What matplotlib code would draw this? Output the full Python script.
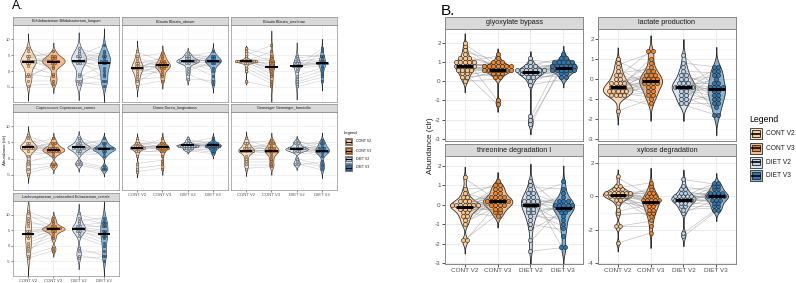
import numpy as np
import matplotlib
matplotlib.use("Agg")
import matplotlib.pyplot as plt
from matplotlib.colors import to_rgba
from matplotlib.patches import Rectangle

plt.rcParams['font.family'] = ['Liberation Sans', 'DejaVu Sans']

W, H = 796, 283

groups = ["CONT V2", "CONT V3", "DIET V2", "DIET V3"]
group_colors = ["#FDC78C", "#F0862A", "#B9D4EA", "#2C79B8"]

# ---- A: species level, clr abundance per subject (V2 / V3 lists are paired by position) ----
a_titles = ["Bifidobacterium Bifidobacterium_longum", "Blautia Blautia_obeum",
            "Blautia Blautia_wexlerae", "Coprococcus Coprococcus_comes",
            "Dorea Dorea_longicatena", "Gemmiger Gemmiger_formicilis",
            "Lachnospiraceae_unclassified Eubacterium_rectale"]

bifido = [[7, 6, 5, 4.5, 4, 3.5, 3.2, 3, 3, 2.8, 2.5, 2, 1.5, -1, -1.5, -2, -3, -4.5],
          [4, 3, 5, 3.2, 6, 2.8, 3.5, 1, 3, 4.5, 2, 3.8, -1, -2, 1.5, 2.5, -3, -4],
          [7, 6, 5.5, 5, 4.5, 4, 3.5, 3.4, 3.3, 3.2, 3, 2.5, 2, -1, -2, -3, -3.5, -4],
          [5, 4, 3, 8, 2.5, 6, -2, 3.5, 1, 4.5, 5.5, 0, 2.8, -3, 2, -1, -4.5, -3.5]]
obeum = [[6, 4.5, 4, 3, 2.5, 2, 1.5, 1.2, 1, 1, 0.8, 0.5, 0, -1, -1.5, -2.5, -3.5, -4.5],
         [3, 5.5, 2, 1.8, 4, 0.5, 2.5, 1.5, 3.5, -1, 1.8, 4.5, 1, 2.2, 0, -2, 1.2, -3],
         [5.5, 5, 4.5, 4, 3.8, 3.5, 3.3, 3.2, 3.1, 3, 3, 2.8, 2.5, 2, 1, 0, -1, -2.5],
         [4, 3.2, 6, 3, 2.8, 5, 3.5, 1, 3.3, 0, 4.5, 2.5, 3.8, -1.5, 2, 3, -4, -3]]
wexlerae = [[7, 6, 5, 4, 3.5, 3.3, 3.2, 3.1, 3.1, 3, 3, 2.9, 2.8, 2.5, 2, 1, 0, -3.3],
            [5, 3, 8, 1.5, 2, 4, 0.5, 1.3, 6, 1, 2.5, -1, 3.5, 0, -2, -3, -4, -5],
            [5, 4, 3.5, 3, 2.5, 2, 2, 1.8, 1.7, 1.6, 1.5, 1, 0, -1.5, -2.5, -3.5, -4, -5],
            [4.5, 5, 3, 4, 2.5, 3.5, 2.4, 2.7, 2.2, 2, 7, 1.5, 6, 1, 0, -1, -2, -3]]
coprococcus = [[7, 6, 5, 4.5, 4, 3.8, 3.6, 3.5, 3.5, 3.4, 3.2, 3, 2, 1, -1, -2, -3.5, -4.5],
               [4, 3, 6, 2.8, 3.5, 2.7, 4.5, 2.6, 3.2, 2.5, 5, 2.2, 1.5, 2, 1, -1.5, -2, -2.5],
               [6.5, 5.5, 5, 4.5, 4, 3.8, 3.6, 3.5, 3.5, 3.4, 3.2, 3, 2.5, 2, 1.5, -1, -1.5, -2],
               [4, 3.3, 5, 3, 6, 2.9, 3.5, 4.5, 3.1, 2.8, 2.5, 3, 2, 1.5, 1, -2.5, -3, -3.5]]
dorea = [[6, 5, 4.5, 4, 3.8, 3.6, 3.5, 3.5, 3.4, 3.3, 3.2, 3, 2.5, 2, 1, -1.5, -3, -4],
         [4.2, 3.5, 5, 3.6, 6, 3.4, 4, 3.8, 3.2, 4.5, 3, 3.5, 2, 2.5, 1, -0.5, -2, -3],
         [6, 5.5, 5, 4.8, 4.5, 4.3, 4.2, 4.1, 4.1, 4.0, 4.0, 3.9, 3.8, 3.5, 3.2, 3, 2.8, 2.5],
         [4.4, 5, 4.1, 6.5, 4, 3.9, 4.8, 4.2, 5.5, 3.8, 4.6, 3.5, 4.1, 3.2, 2.5, 3, 2, 1.5]]
gemmiger = [[6, 5, 4.5, 4, 3.5, 3, 2.8, 2.6, 2.5, 2.5, 2.4, 2.2, 2, 1, 0, -1, -2, -3],
            [3, 5.5, 2.5, 4, 2.8, 5, 2.3, 3.5, 2.6, 1.5, 4.5, 2.5, 2, 1, 0, -1, -2, -2.5],
            [5.5, 5, 4.5, 4, 3.5, 3.3, 3.1, 3, 3, 2.9, 2.8, 2.6, 2.3, 2, 0, -1, -1.5, -2],
            [3, 4.5, 2.5, 5.5, 2.8, 3.5, 2.6, 5, 2.3, 4, 2.5, 1.5, 2, 1, -2, -2.5, -3.5, -1]]
lachno = [[11, 10, 9, 8, 7, 6, 5, 4.5, 4, 3.5, 3, 2, 1, 0, -1, -2, -3, -4],
          [8, 6, 9, 5.5, 7, 5.6, 5.8, 5, 6.5, 5.4, 4.5, 5.2, 4, 3, 2, 5.5, -0.5, -1.5],
          [10, 9, 8, 7, 6.5, 6, 5.8, 5.5, 5.4, 5.3, 5, 4.5, 4, 3, -1, -2, -3, -4],
          [8, 7, 9, 6, 7.5, 5, 6.5, 4.5, 3.5, 4, 2, 3, 1, 0, -3, -2, -4.5, -3.5]]

# ---- B: pathway level ----
b_titles = ["glyoxylate bypass", "lactate production", "threonine degradation I", "xylose degradation"]

glyoxylate = [[1.9, 1.7, 1.5, 1.4, 1.2, 1.2, 1.1, 1.0, 1.0, 0.9, 0.9, 0.9, 0.8, 0.8, 0.8, 0.7, 0.7, 0.6, 0.6, 0.5, 0.5, 0.4, 0.3, 0.2, 0.1, 0.0],
              [0.8, 0.6, 1.1, 0.7, -1.0, 0.9, 0.5, 1.3, 0.6, 0.8, 0.4, 0.7, 0.9, 0.3, 0.6, 0.7, 1.0, 0.5, 0.8, 0.2, 0.7, -1.2, 0.6, 0.4, 0.5, 0.1],
              [1.1, 0.9, 0.8, 0.7, 0.7, 0.6, 0.6, 0.6, 0.5, 0.5, 0.5, 0.5, 0.4, 0.4, 0.4, 0.3, 0.3, 0.2, 0.1, 0.0, -0.2, -1.9, -2.1, -2.3],
              [0.9, 0.7, 1.2, 0.8, 0.5, 1.0, 0.7, 0.6, 0.9, 0.8, 0.3, 0.7, 1.1, 0.5, 0.6, 0.2, 0.9, 0.6, 0.4, 0.5, 0.1, 1.4, 0.8, 1.0]]
lactate = [[0.9, 0.7, 0.5, 0.3, 0.2, 0.1, 0.0, -0.1, -0.2, -0.3, -0.3, -0.3, -0.4, -0.4, -0.5, -0.5, -0.6, -0.6, -0.6, -0.7, -0.7, -0.8, -0.8, -0.8, -0.9, -1.6],
           [0.1, 1.3, -0.3, 0.5, -0.1, 1.4, -0.6, 0.0, 0.3, -0.2, 0.7, -0.8, -0.1, 0.2, -0.4, 1.0, -0.2, -0.5, 0.4, -0.9, 0.1, -0.3, -0.7, 0.0, -1.3, -1.0],
           [1.2, 0.8, 0.5, 0.4, 0.2, 0.1, 0.0, -0.1, -0.2, -0.3, -0.4, -0.4, -0.4, -0.5, -0.5, -0.6, -0.7, -0.8, -0.9, -1.0, -1.1, -1.2, -1.3, -0.3],
           [-0.5, 0.6, -1.8, 0.3, -0.4, -1.0, 0.1, -0.7, -0.2, 0.5, -1.3, -0.5, 0.0, -0.9, -0.6, 0.4, -1.1, -0.3, -1.5, 0.2, -0.8, -1.2, -1.8, -0.4]]
threonine = [[1.35, 0.8, 0.6, 0.4, 0.3, 0.2, 0.1, 0.1, 0.0, 0.0, 0.0, -0.1, -0.1, -0.1, -0.2, -0.2, -0.3, -0.4, -0.5, -0.6, -0.7, -0.9, -1.0, -1.8, -1.9, 0.0],
             [0.2, 0.9, 0.1, 1.1, -0.1, 0.4, 0.3, 0.0, 0.7, -0.4, 0.2, 0.5, 0.1, 0.9, -0.2, 0.0, 0.8, -0.6, 0.3, 0.6, 0.2, -0.1, 0.4, -0.5, 0.1, -0.3],
             [1.2, 0.9, 0.7, 0.6, 0.5, 0.4, 0.3, 0.2, 0.2, 0.1, 0.1, 0.0, 0.0, -0.1, -0.2, -0.3, -0.4, -0.5, -0.6, -0.8, -1.0, -1.3, -1.9, -2.4],
             [-0.2, 0.8, -2.3, 0.0, 1.1, -0.1, -0.5, 0.1, -1.6, 0.3, -0.1, -0.9, 0.2, -0.3, 0.5, -0.2, -1.1, 0.0, -0.7, 0.1, -1.3, -0.4, -0.1, -2.2]]
xylose = [[1.1, 0.6, 0.5, 0.4, 0.3, 0.3, 0.2, 0.2, 0.2, 0.1, 0.1, 0.1, 0.1, 0.0, 0.0, 0.0, -0.1, -0.1, -0.2, -0.3, -0.5, -0.9, -1.1, -1.8, -1.8, -2.8],
          [0.0, -0.3, 0.8, -0.5, -0.2, 0.1, -0.9, -0.3, 0.3, -1.1, -0.4, 0.2, 0.0, -0.6, -0.1, -0.8, -0.2, -1.3, 0.5, -0.7, -0.3, -0.5, -1.0, -1.5, -1.8, -2.2],
          [1.0, 0.6, 0.4, 0.3, 0.2, 0.1, 0.0, 0.0, -0.1, -0.1, -0.1, -0.2, -0.2, -0.2, -0.3, -0.3, -0.4, -0.5, -0.6, -0.7, -0.8, -1.0, -2.2, -2.4],
          [0.7, 0.2, 0.5, 0.0, 0.1, -0.2, 0.8, -0.1, 0.3, 0.0, -0.4, 0.2, -0.3, 0.6, -0.1, 0.1, -0.5, 0.4, -0.6, 0.0, -0.7, -0.2, -0.8, -0.9]]


fig = plt.figure(figsize=(W / 100, H / 100), dpi=100)


def px_axes(x0, y0, x1, y1):
    # axes from pixel box (top-left origin)
    return fig.add_axes([x0 / W, 1 - y1 / H, (x1 - x0) / W, (y1 - y0) / H])


def bw_nrd0(v):
    sd = v.std(ddof=1)
    q75, q25 = np.percentile(v, [75, 25])
    lo = min(sd, (q75 - q25) / 1.34)
    if lo <= 0:
        lo = sd if sd > 0 else 1.0
    return 0.9 * lo * len(v) ** -0.2


def kde(v, bw, grid):
    z = (grid[:, None] - v[None, :]) / bw
    return np.exp(-0.5 * z ** 2).sum(1) / (len(v) * bw * np.sqrt(2 * np.pi))


def dot_bins(vals, binw):
    # histodot style: bins centred on multiples of binw
    idx = np.round(np.asarray(vals, float) / binw + 1e-6).astype(int)
    centers, counts = np.unique(idx, return_counts=True)
    return [(c * binw, n) for c, n in zip(centers, counts)]


def draw_panel(box, strip_h, title, data, ylim, yticks, yminor, binw, dotsize, show_x, show_y,
               fs_tick, fs_strip, med_lw, lw, tick_len):
    x0, y0, x1, y1 = box
    ax = px_axes(x0, y0, x1, y1)
    st = px_axes(x0, y0 - strip_h, x1, y0)

    ax.set_xlim(0.4, 4.6)
    ax.set_ylim(*ylim)
    ax.set_xticks([1, 2, 3, 4])
    ax.set_yticks(yticks)
    ax.set_yticks(yminor, minor=True)
    ax.tick_params(which='minor', length=0)
    ax.tick_params(which='major', length=tick_len, width=lw, color='#333333',
                   labelsize=fs_tick, labelcolor='#4D4D4D', pad=1)
    ax.set_xticklabels(groups if show_x else [])
    ax.set_yticklabels([str(t) for t in yticks] if show_y else [])
    if not show_x:
        ax.tick_params(axis='x', length=0)
    if not show_y:
        ax.tick_params(axis='y', length=0)
    ax.grid(True, which='major', color='#EBEBEB', lw=lw * 1.2)
    ax.grid(True, which='minor', axis='y', color='#F3F3F3', lw=lw * 0.6)
    ax.set_axisbelow(True)
    for sp in ax.spines.values():
        sp.set_color('#8A8A8A')
        sp.set_linewidth(lw * 1.2)

    st.set_facecolor('#D9D9D9')
    st.set_xticks([])
    st.set_yticks([])
    for sp in st.spines.values():
        sp.set_color('#8A8A8A')
        sp.set_linewidth(lw * 1.2)
    st.text(0.5, 0.5, title, ha='center', va='center', fontsize=fs_strip,
            color='#1A1A1A', transform=st.transAxes)

    dens = []
    for vals in data:
        v = np.asarray(vals, float)
        bw = bw_nrd0(v)
        grid = np.linspace(v.min() - 3 * bw, v.max() + 3 * bw, 400)
        dens.append((grid, kde(v, bw, grid)))
    dmax = max(d.max() for _, d in dens)

    px_y = (y1 - y0) / (ylim[1] - ylim[0])
    px_x = (x1 - x0) / 4.2
    diam_px = binw * dotsize * px_y
    dx = diam_px / px_x
    diam_pt = diam_px * 0.72 * 0.95

    for i, (grid, d) in enumerate(dens):
        half = 0.45 * d / dmax
        ax.fill_betweenx(grid, i + 1 - half, i + 1 + half,
                         facecolor=to_rgba(group_colors[i], 0.55),
                         edgecolor='#2B2B2B', lw=lw, zorder=2)

    for a, b in [(0, 1), (2, 3)]:
        for va, vb in zip(data[a], data[b]):
            ax.plot([a + 1, b + 1], [va, vb], color='#8C8C8C', alpha=0.55, lw=lw * 0.8, zorder=3)

    for i, vals in enumerate(data):
        for center, n in dot_bins(vals, binw):
            xs = i + 1 + (np.arange(n) - (n - 1) / 2) * dx
            ax.scatter(xs, [center] * n, s=diam_pt ** 2, c=group_colors[i],
                       edgecolors='#1E1E1E', linewidths=lw * 0.7, zorder=4)
        med = np.median(vals)
        ax.plot([i + 0.75, i + 1.25], [med, med], color='black', lw=med_lw,
                solid_capstyle='butt', zorder=5)
    return ax


# ---- A layout ----
a_cols = [(13, 119), (122, 228), (231, 337)]
a_rows = [(25, 102), (112, 190), (201, 276)]
a_data = [bifido, obeum, wexlerae, coprococcus, dorea, gemmiger, lachno]
for k, (title, data) in enumerate(zip(a_titles, a_data)):
    r, c = divmod(k, 3)
    cx, rx = a_cols[c], a_rows[r]
    show_x = (r == 2) or (r == 1 and c > 0)
    draw_panel((cx[0], rx[0], cx[1], rx[1]), 8, title, data, (-9.7, 14.4),
               [-5, 0, 5, 10], [-7.5, -2.5, 2.5, 7.5, 12.5], 0.8, 1.0,
               show_x, c == 0, 3.0, 2.8, 1.4, 0.4, 1.2)

# ---- B layout ----
b_cols = [(445, 583), (598, 736)]
b_rows = [(29, 141), (156, 264)]
b_data = [glyoxylate, lactate, threonine, xylose]
b_ylims = [(-3.1, 2.7), (-3.1, 2.4), (-3.05, 2.2), (-4.05, 2.4)]
b_yticks = [[-3, -2, -1, 0, 1, 2]] * 3 + [[-4, -2, 0, 2]]
b_yminor = [[-2.5, -1.5, -0.5, 0.5, 1.5, 2.5]] * 3 + [[-3, -1, 1]]
b_binw = [0.2, 0.2, 0.2, 0.2]
b_dotsize = [1.15, 1.05, 1.05, 1.2]
for k, (title, data) in enumerate(zip(b_titles, b_data)):
    r, c = divmod(k, 2)
    cx, rx = b_cols[c], b_rows[r]
    draw_panel((cx[0], rx[0], cx[1], rx[1]), 12, title, data, b_ylims[k],
               b_yticks[k], b_yminor[k], b_binw[k], b_dotsize[k],
               r == 1, True, 4.6, 5.2, 2.2, 0.6, 2.0)

# ---- labels and legends ----
ov = fig.add_axes([0, 0, 1, 1], facecolor='none')
ov.set_xlim(0, W)
ov.set_ylim(H, 0)
ov.axis('off')

ov.text(12, 6, "A.", fontsize=9, ha='left', va='center')
ov.text(441, 11, "B.", fontsize=11, ha='left', va='center')
ov.text(5, 150, "Abundance (clr)", fontsize=3.2, rotation=90, ha='center', va='center', color='#1A1A1A')
ov.text(430, 146, "Abundance (clr)", fontsize=5.8, rotation=90, ha='center', va='center', color='#1A1A1A')


def legend(x, y_title, ys, kw, kh, fs_title, fs_lab, lw):
    ov.text(x - 1, y_title, "Legend", fontsize=fs_title, ha='left', va='center')
    for yc, g, col in zip(ys, groups, group_colors):
        ov.add_patch(Rectangle((x, yc - kh / 2), kw, kh, facecolor=to_rgba(col, 0.55),
                               edgecolor='#2B2B2B', lw=lw))
        ov.add_patch(Rectangle((x + kw * 0.15, yc - kh * 0.3), kw * 0.7, kh * 0.6,
                               facecolor=col, edgecolor='#1E1E1E', lw=lw))
        ov.plot([x + kw * 0.15, x + kw * 0.85], [yc, yc], color='black', lw=lw * 2)
        ov.text(x + kw + 4, yc, g, fontsize=fs_lab, ha='left', va='center', color='#1A1A1A')


legend(345, 133, [141.5, 150.5, 159, 167.5], 7, 7, 3.0, 2.6, 0.4)
legend(750, 119, [133.5, 148, 162, 175.5], 12, 11, 6.2, 4.8, 0.6)

fig.savefig("out.png", dpi=100)
